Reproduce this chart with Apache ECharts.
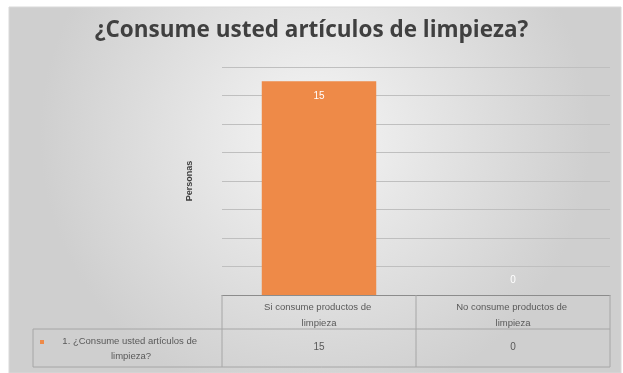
<!DOCTYPE html>
<html>
<head>
<meta charset="utf-8">
<script src="https://cdn.jsdelivr.net/npm/echarts@6/dist/echarts.min.js"></script>
<style>
  html, body { margin: 0; padding: 0; background: #ffffff; }
  #chart { width: 623px; height: 373px; }
</style>
</head>
<body>
<div id="chart"></div>
<script>
// Survey answers and counts
const titleText = '¿Consume usted artículos de limpieza?';
const categories = ['Si consume productos de limpieza', 'No consume productos de limpieza'];
const seriesName = '1. ¿Consume usted artículos de limpieza?';
const seriesValues = [15, 0];
const yAxisTitle = 'Personas';

const chart = echarts.init(document.getElementById('chart'));

const tableColor = '#a6a6a6';
const textGray = '#595959';
const barColor = '#ee8a48';

chart.setOption({
  animation: false,
  title: {
    text: titleText,
    left: 'center',
    top: 14,
    textStyle: { fontFamily: 'Open Sans', fontWeight: 'bold', fontSize: 22.5, color: '#404040' }
  },
  grid: { left: 222, right: 13, top: 67, bottom: 78 },
  xAxis: [
    {
      type: 'category',
      data: categories,
      axisLine: { lineStyle: { color: '#8c8c8c', width: 1 } },
      axisTick: { show: false },
      axisLabel: {
        interval: 0,
        width: 125,
        overflow: 'break',
        margin: 4,
        lineHeight: 16,
        fontFamily: 'Liberation Sans',
        fontSize: 9.5,
        color: textGray,
        align: 'center'
      }
    },
    {
      type: 'category',
      position: 'bottom',
      offset: 47,
      data: seriesValues.map(String),
      axisLine: { show: false },
      axisTick: { show: false },
      axisLabel: {
        interval: 0,
        margin: 0,
        fontFamily: 'Liberation Sans',
        fontSize: 10,
        color: textGray
      }
    }
  ],
  yAxis: {
    type: 'value',
    min: 0,
    max: 16,
    interval: 2,
    name: yAxisTitle,
    nameLocation: 'middle',
    nameRotate: 90,
    nameGap: 28,
    nameTextStyle: { fontFamily: 'Liberation Sans', fontWeight: 'bold', fontSize: 9, color: '#404040' },
    axisLabel: { show: false },
    axisLine: { show: false },
    axisTick: { show: false },
    splitLine: { lineStyle: { color: '#bfbfbf', width: 1 } }
  },
  series: [{
    name: seriesName,
    type: 'bar',
    barWidth: '59%',
    data: seriesValues.map(v => ({
      value: v,
      label: {
        show: true,
        position: v > 0 ? 'insideTop' : 'top',
        distance: 10,
        color: '#ffffff',
        fontFamily: 'Liberation Sans',
        fontSize: 10
      }
    })),
    itemStyle: { color: barColor }
  }]
});

// Background panel, data table frame and legend cell
const gx0 = 222, gx1 = 610, gMid = (gx0 + gx1) / 2;
const tTop = 295, tRow = 329, tBot = 367, tLeft = 33;
const line = (x1, y1, x2, y2) => ({
  type: 'line', shape: { x1, y1, x2, y2 },
  style: { stroke: tableColor, lineWidth: 1 }, z: 10
});

chart.setOption({
  graphic: [
    {
      type: 'rect', z: -10, silent: true,
      shape: { x: 9, y: 7, width: 612, height: 366 },
      style: {
        fill: {
          type: 'radial', x: 0.5, y: 0.35, r: 0.75,
          colorStops: [
            { offset: 0, color: '#f5f5f5' },
            { offset: 1, color: '#cfcfcf' }
          ]
        },
        stroke: '#d9d9d9', lineWidth: 1
      }
    },
    line(gx0, tTop, gx0, tBot),
    line(gMid, tTop, gMid, tBot),
    line(gx1, tTop, gx1, tBot),
    line(tLeft, tRow, gx1, tRow),
    line(tLeft, tBot, gx1, tBot),
    line(tLeft, tRow, tLeft, tBot),
    {
      type: 'rect', z: 11,
      shape: { x: 40, y: 340, width: 4, height: 4 },
      style: { fill: barColor }
    },
    {
      type: 'text', z: 11,
      style: {
        text: seriesName,
        x: 131, y: 349,
        width: 180,
        overflow: 'break',
        align: 'center',
        verticalAlign: 'middle',
        lineHeight: 15,
        fontFamily: 'Liberation Sans',
        fontSize: 9.5,
        fill: textGray
      }
    }
  ]
});
</script>
</body>
</html>
